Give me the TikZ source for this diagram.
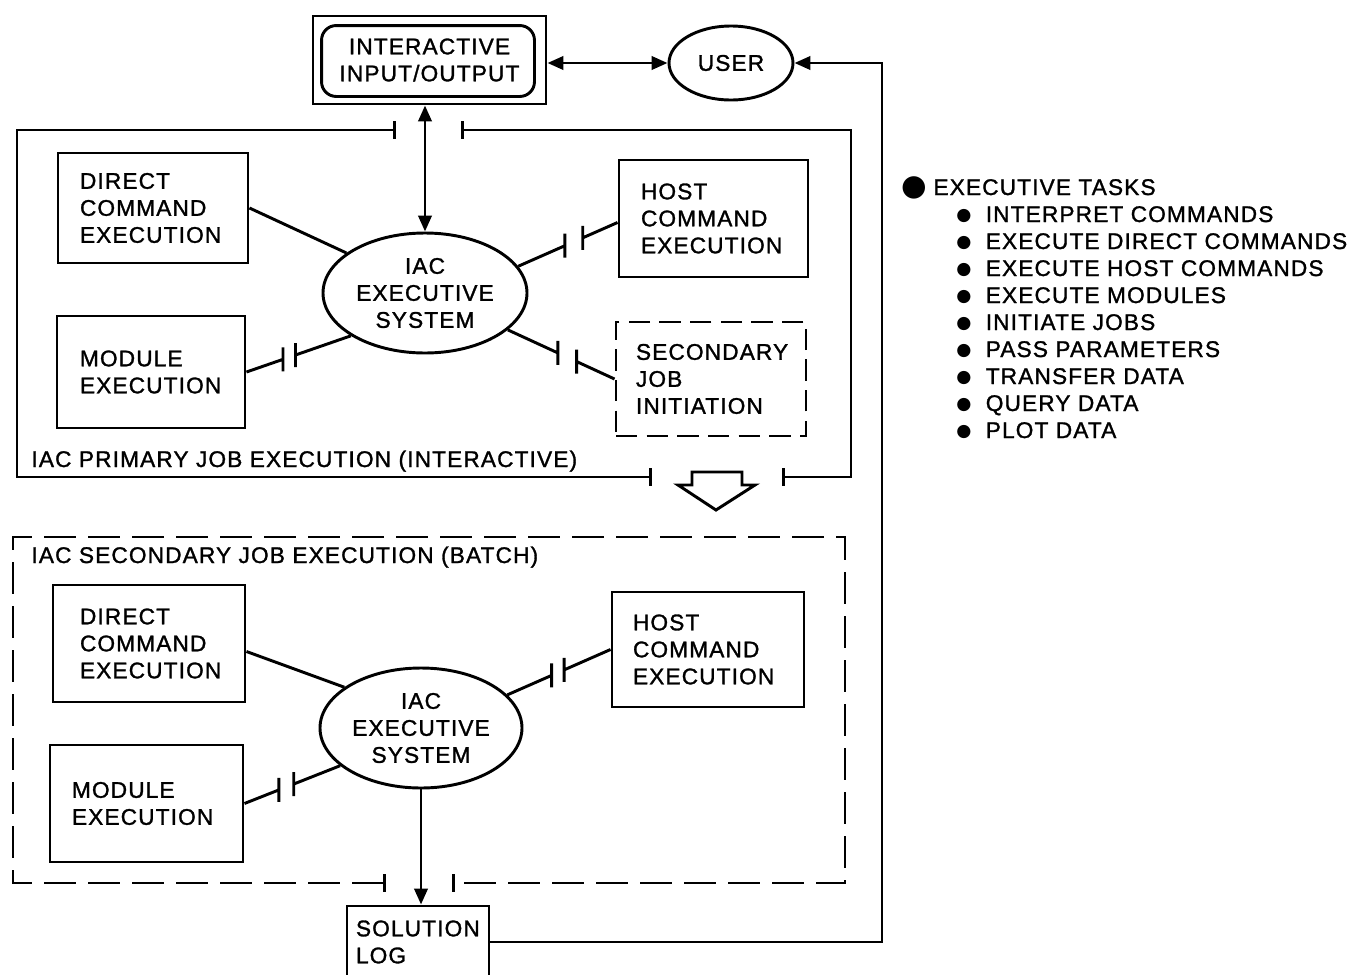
\documentclass[tikz,border=0pt]{standalone}
\usepackage{fontspec}
\setmainfont{Liberation Sans}[LetterSpace=5, FakeBold=1.3]
\newfontfamily\dotfont{DejaVu Sans}
\usetikzlibrary{arrows.meta,shapes.geometric,calc}
\hyphenpenalty=10000
\exhyphenpenalty=10000

% bullets for the task list
\newcommand\bigdot{{\dotfont\fontsize{22}{22}\selectfont ●}}
\newcommand\smalldot{\raisebox{1.5pt}{\dotfont\fontsize{13}{13}\selectfont ●}}

% a connector broken in the middle, with a vertical bar at each end of the gap
\newcommand\gapline[4]{%
  \draw (#1) -- ($(#1)!#3!(#2)$) ++(0,-12) -- ++(0,24);
  \draw (#2) -- ($(#1)!#4!(#2)$) ++(0,-12) -- ++(0,24);
}

\tikzset{
  txt/.style={font=\fontsize{17}{20.25}\selectfont},
  blk/.style={txt, draw, rectangle, align=left, inner ysep=2pt},
  oval/.style={txt, draw, ellipse, align=center, inner sep=0pt},
  dashbox/.style={dash pattern=on 16pt off 7pt},
  dashframe/.style={dash pattern=on 24pt off 9pt},
  arrowto/.style={-{Triangle[length=12pt,width=10pt]}},
  arrowboth/.style={{Triangle[length=12pt,width=10pt]}-{Triangle[length=12pt,width=10pt]}},
  barends/.style={{Bar[width=13pt]}-{Bar[width=13pt]}},
  tasktxt/.style={txt, anchor=base west, inner sep=0pt},
}

\begin{document}
\begin{tikzpicture}[x=0.75pt, y=-0.75pt, line width=2.2pt]
\path[use as bounding box] (0,0) rectangle (1354,975);
\fill[white] (0,0) rectangle (1354,975);
\clip (0,0) rectangle (1354,975);

% ---- terminal and user ----
\node[txt, draw, rectangle, align=center, minimum width=174.75pt, minimum height=66pt] (io) at (429.5,60)
  {INTERACTIVE\\INPUT/OUTPUT};
\draw[rounded corners=11pt] ([shift={(10,11)}]io.north west) rectangle ([shift={(-13,-9)}]io.south east);
\node[oval, minimum width=93pt, minimum height=55.5pt] (user) at (731,63) {USER};

% ---- primary (interactive) job ----
\node[oval, minimum width=153pt, minimum height=90pt] (e1) at (425,293) {IAC\\EXECUTIVE\\SYSTEM};
\node[blk, minimum height=82.5pt, text width=109.5pt, inner xsep=16.5pt] (d1) at (153,208)
  {DIRECT\\COMMAND\\EXECUTION};
\node[blk, minimum height=84pt, text width=106.5pt, inner xsep=17.25pt] (m1) at (151,372)
  {MODULE\\EXECUTION};
\node[blk, minimum height=87.75pt, text width=108.75pt, inner xsep=16.5pt] (h1) at (713.5,218.5)
  {HOST\\COMMAND\\EXECUTION};
\node[blk, dashbox, minimum height=85.5pt, text width=112.5pt, inner xsep=15pt] (s1) at (711,379)
  {SECONDARY\\JOB\\INITIATION};
\node[tasktxt] (plab) at (30,467) {IAC PRIMARY JOB EXECUTION (INTERACTIVE)};

\draw[barends] (396,130) -- (17,130) -- (17,477) -- (652,477);
\draw[barends] (461,130) -- (851,130) -- (851,477) -- (782,477);

\draw (d1.east) -- (e1.153.7);
\gapline{m1.east}{e1.210}{0.35}{0.47}
\gapline{e1.16}{[yshift=-3pt]h1.west}{0.47}{0.65}
\gapline{e1.-24}{s1.west}{0.47}{0.645}

% ---- hand-over to the batch job ----
\draw[line join=miter] (692,472) -- (742,472) -- (742,485) -- (755,485) -- (716,510)
  -- (678,485) -- (692,485) -- cycle;

% ---- secondary (batch) job ----
\node[oval, minimum width=151.5pt, minimum height=90pt] (e2) at (421,728) {IAC\\EXECUTIVE\\SYSTEM};
\node[blk, minimum height=87.75pt, text width=103.5pt, inner xsep=20.25pt] (d2) at (149,643.5)
  {DIRECT\\COMMAND\\EXECUTION};
\node[blk, minimum height=87.75pt, text width=111.75pt, inner xsep=16.5pt] (m2) at (146.5,803.5)
  {MODULE\\EXECUTION};
\node[blk, minimum height=86.25pt, text width=112.5pt, inner xsep=15.75pt] (h2) at (708,649.5)
  {HOST\\COMMAND\\EXECUTION};
\node[tasktxt] (slab) at (30,563) {IAC SECONDARY JOB EXECUTION (BATCH)};

\draw[dashframe, barends] (386,883) -- (13,883) -- (13,537) -- (845,537) -- (845,883) -- (452,883);

\draw ([yshift=-6pt]d2.east) -- (e2.152.8);
\gapline{m2.east}{e2.205.7}{0.36}{0.515}
\gapline{e2.21}{h2.west}{0.43}{0.55}

% ---- solution log and feedback to the user ----
\node[blk, minimum height=54pt, text width=93pt, inner xsep=6.75pt] (sol) at (418,942)
  {SOLUTION\\LOG};
\coordinate (fbtop) at (882,63);

\draw[arrowboth] (io.east |- user.west) -- (user.west);
\draw[arrowboth] (io.south -| e1.north) -- (e1.north);
\draw[arrowto] (e2.south) -- (e2.south |- sol.north);
\draw[arrowto] (sol.east) -| (fbtop) -- (user.east);

% ---- task list ----
\node[tasktxt] (tk0) at (900,195) {\makebox[24pt][l]{\bigdot}EXECUTIVE TASKS};
\node[tasktxt] (tk1) at (955,222) {\makebox[22pt][l]{\smalldot}INTERPRET COMMANDS};
\node[tasktxt] (tk2) at (955,249) {\makebox[22pt][l]{\smalldot}EXECUTE DIRECT COMMANDS};
\node[tasktxt] (tk3) at (955,276) {\makebox[22pt][l]{\smalldot}EXECUTE HOST COMMANDS};
\node[tasktxt] (tk4) at (955,303) {\makebox[22pt][l]{\smalldot}EXECUTE MODULES};
\node[tasktxt] (tk5) at (955,330) {\makebox[22pt][l]{\smalldot}INITIATE JOBS};
\node[tasktxt] (tk6) at (955,357) {\makebox[22pt][l]{\smalldot}PASS PARAMETERS};
\node[tasktxt] (tk7) at (955,384) {\makebox[22pt][l]{\smalldot}TRANSFER DATA};
\node[tasktxt] (tk8) at (955,411) {\makebox[22pt][l]{\smalldot}QUERY DATA};
\node[tasktxt] (tk9) at (955,438) {\makebox[22pt][l]{\smalldot}PLOT DATA};
\end{tikzpicture}
\end{document}
